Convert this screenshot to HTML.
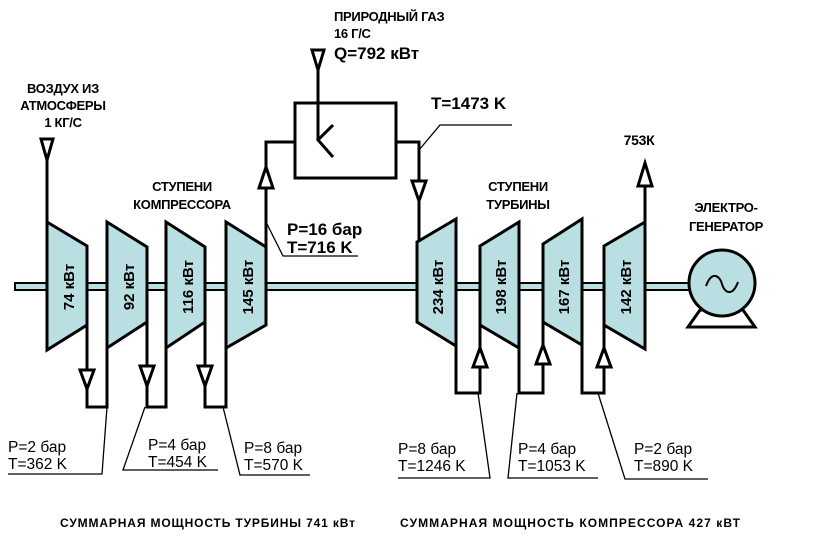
<!DOCTYPE html>
<html><head><meta charset="utf-8"><style>
html,body{margin:0;padding:0;background:#fff;}
svg{display:block;}
text{font-family:"Liberation Sans",Arial,sans-serif;fill:#000;}
</style></head><body>
<svg width="816" height="538" viewBox="0 0 816 538" xmlns="http://www.w3.org/2000/svg">
<g stroke="#000" fill="none" stroke-width="3">
<rect x="15" y="283" width="675" height="7" fill="#b9dfe2" stroke-width="2"/>
<polygon points="47,222 87,246 87,325 47,350" fill="#b9dfe2"/>
<polygon points="107,222 147,247 147,322 107,348" fill="#b9dfe2"/>
<polygon points="166,222 205,247 205,322 166,348" fill="#b9dfe2"/>
<polygon points="226,222 266,247 266,325 226,348" fill="#b9dfe2"/>
<polygon points="417,242 456,219 456,346 417,322" fill="#b9dfe2"/>
<polygon points="480,246 519,222 519,348 480,325" fill="#b9dfe2"/>
<polygon points="543,244 582,219 582,345 543,322" fill="#b9dfe2"/>
<polygon points="604,246 645,222 645,349 604,325" fill="#b9dfe2"/>
<polygon points="700,310 688,327 755,327 743,310" fill="#fff"/>
<circle cx="722" cy="283" r="33" fill="#b9dfe2"/>
<path d="M706,286 C712,270 720,276 722,284 C724,292 732,298 738,282" stroke-width="2"/>
<line x1="47" y1="150" x2="47" y2="222"/>
<polyline points="87,325 87,407 107,407 107,348"/>
<polyline points="147,322 147,407 166,407 166,348"/>
<polyline points="205,322 205,407 226,407 226,348"/>
<polyline points="266,247 266,142 295,142"/>
<rect x="295" y="103" width="101" height="75"/>
<polyline points="396,142 419,142 419,242"/>
<line x1="318" y1="60" x2="318" y2="140"/>
<polyline points="333,125 318,140 333,157"/>
<polyline points="456,346 456,393 480,393 480,325"/>
<polyline points="519,348 519,393 543,393 543,322"/>
<polyline points="582,345 582,393 604,393 604,325"/>
<line x1="645" y1="222" x2="645" y2="170"/>
</g>
<g stroke="#000" stroke-width="3" fill="#fff">
<polygon points="41,139 53,139 47,160"/>
<polygon points="312,50 324,50 318,70"/>
<polygon points="80,370 94,370 87,389"/>
<polygon points="140,366 154,366 147,386"/>
<polygon points="198,366 212,366 205,386"/>
<polygon points="259,188 273,188 266,167"/>
<polygon points="412,181 426,181 419,201"/>
<polygon points="473,367 487,367 480,348"/>
<polygon points="536,364 550,364 543,345"/>
<polygon points="597,367 611,367 604,348"/>
<polygon points="638,186 652,186 645,163"/>
</g>
<g stroke="#000" stroke-width="1.3" fill="none">
<polyline points="266,222 283,256 358,256"/>
<polyline points="419,150 440,125 512,125"/>
<polyline points="107,407 102,474 8,474"/>
<polyline points="145,407 123,470 218,470"/>
<polyline points="223,407 240,475 310,475"/>
<polyline points="478,393 490,478 398,478"/>
<polyline points="517,393 508,478 598,478"/>
<polyline points="598,393 625,479 708,479"/>
</g>
<g font-weight="bold" font-size="15" text-anchor="middle">
<text transform="translate(74,287) rotate(-90)">74 кВт</text>
<text transform="translate(134,287) rotate(-90)">92 кВт</text>
<text transform="translate(193,287) rotate(-90)">116 кВт</text>
<text transform="translate(253,287) rotate(-90)">145 кВт</text>
<text transform="translate(443,287) rotate(-90)">234 кВт</text>
<text transform="translate(506,287) rotate(-90)">198 кВт</text>
<text transform="translate(569,287) rotate(-90)">167 кВт</text>
<text transform="translate(631,287) rotate(-90)">142 кВт</text>
</g>
<g font-size="13" font-weight="bold" text-anchor="middle" letter-spacing="-0.3">
<text x="63" y="93">ВОЗДУХ ИЗ</text>
<text x="63" y="110">АТМОСФЕРЫ</text>
<text x="63" y="127">1 КГ/С</text>
<text x="182" y="191">СТУПЕНИ</text>
<text x="182" y="209">КОМПРЕССОРА</text>
<text x="518" y="191">СТУПЕНИ</text>
<text x="518" y="209">ТУРБИНЫ</text>
<text x="726" y="212">ЭЛЕКТРО-</text>
<text x="726" y="231">ГЕНЕРАТОР</text>
<text x="639" y="145" font-size="14">753К</text>
</g>
<g font-size="13" font-weight="bold" letter-spacing="-0.3">
<text x="334" y="21">ПРИРОДНЫЙ ГАЗ</text>
<text x="334" y="38">16 Г/С</text>
</g>
<g font-size="17" font-weight="bold">
<text x="334" y="59">Q=792 кВт</text>
<text x="431" y="109">T=1473 K</text>
<text x="287" y="235">P=16 бар</text>
<text x="287" y="253">T=716 K</text>
</g>
<g font-size="15.5">
<text x="8" y="452">P=2 бар</text>
<text x="8" y="469">T=362 K</text>
<text x="148" y="450">P=4 бар</text>
<text x="148" y="467">T=454 K</text>
<text x="244" y="453">P=8 бар</text>
<text x="244" y="470">T=570 K</text>
<text x="398" y="454">P=8 бар</text>
<text x="398" y="471">T=1246 K</text>
<text x="518" y="454">P=4 бар</text>
<text x="518" y="471">T=1053 K</text>
<text x="634" y="454">P=2 бар</text>
<text x="634" y="471">T=890 K</text>
</g>
<g font-size="12" font-weight="bold">
<text x="60" y="527" textLength="295">СУММАРНАЯ МОЩНОСТЬ ТУРБИНЫ 741 кВт</text>
<text x="400" y="527" textLength="340">СУММАРНАЯ МОЩНОСТЬ КОМПРЕССОРА 427 кВТ</text>
</g>
</svg>
</body></html>
